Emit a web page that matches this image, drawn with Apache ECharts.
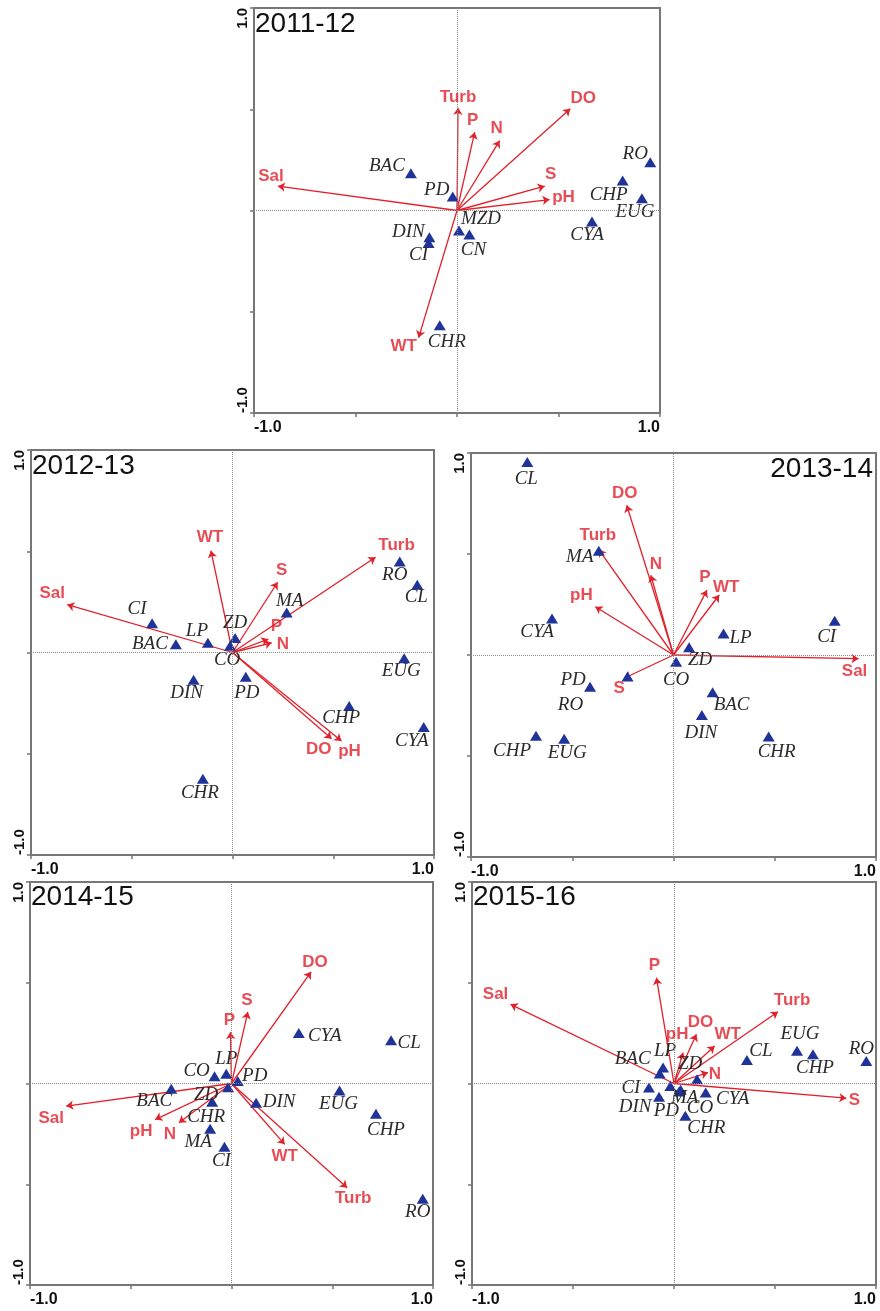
<!DOCTYPE html>
<html><head><meta charset="utf-8">
<script src="https://cdn.jsdelivr.net/npm/echarts@6/dist/echarts.min.js"></script>
<style>html,body{margin:0;padding:0;background:#fff}#c{width:880px;height:1311px}</style>
</head><body><div id="c"></div>
<script>
// ---------- data ----------
const panelTitles = ['2011-12', '2012-13', '2013-14', '2014-15', '2015-16'];
const axisEndLabels = ['-1.0', '1.0'];

// 2011-12
const env1Names = ['Turb', 'P', 'N', 'DO', 'S', 'pH', 'Sal', 'WT'];
const env1X = [0.005, 0.087, 0.21, 0.558, 0.432, 0.456, -0.882, -0.189];
const env1Y = [0.507, 0.387, 0.345, 0.502, 0.12, 0.054, 0.12, -0.628];
const sp1Names = ['BAC', 'PD', 'RO', 'CHP', 'EUG', 'CYA', 'MZD', 'CN', 'DIN', 'CI', 'CHR'];
const sp1X = [-0.227, -0.021, 0.952, 0.816, 0.911, 0.665, 0.01, 0.061, -0.136, -0.14, -0.085];
const sp1Y = [0.184, 0.069, 0.238, 0.148, 0.061, -0.054, -0.099, -0.118, -0.132, -0.161, -0.567];

// 2012-13
const env2Names = ['WT', 'Turb', 'S', 'Sal', 'P', 'N', 'DO', 'pH'];
const env2X = [-0.107, 0.71, 0.224, -0.82, 0.178, 0.195, 0.492, 0.541];
const env2Y = [0.503, 0.47, 0.347, 0.236, 0.066, 0.048, -0.426, -0.437];
const sp2Names = ['RO', 'CL', 'MA', 'CI', 'BAC', 'LP', 'ZD', 'CO', 'EUG', 'DIN', 'PD', 'CHP', 'CYA', 'CHR'];
const sp2X = [0.83, 0.917, 0.269, -0.399, -0.281, -0.122, 0.013, -0.012, 0.852, -0.193, 0.066, 0.579, 0.949, -0.147];
const sp2Y = [0.45, 0.335, 0.198, 0.144, 0.041, 0.048, 0.071, 0.033, -0.028, -0.135, -0.12, -0.264, -0.368, -0.624];

// 2013-14
const env3Names = ['DO', 'Turb', 'N', 'P', 'WT', 'pH', 'S', 'Sal'];
const env3X = [-0.231, -0.369, -0.112, 0.165, 0.226, -0.386, -0.244, 0.914];
const env3Y = [0.741, 0.522, 0.395, 0.321, 0.297, 0.239, -0.115, -0.018];
const sp3Names = ['CL', 'MA', 'CYA', 'CI', 'LP', 'ZD', 'CO', 'PD', 'RO', 'BAC', 'DIN', 'CHR', 'CHP', 'EUG'];
const sp3X = [-0.722, -0.369, -0.6, 0.796, 0.247, 0.077, 0.013, -0.412, -0.227, 0.193, 0.14, 0.47, -0.679, -0.54];
const sp3Y = [0.956, 0.516, 0.181, 0.17, 0.107, 0.038, -0.033, -0.157, -0.107, -0.185, -0.297, -0.404, -0.4, -0.415];

// 2014-15
const env4Names = ['DO', 'S', 'P', 'Sal', 'pH', 'N', 'WT', 'Turb'];
const env4X = [0.395, 0.081, -0.005, -0.82, -0.379, -0.261, 0.264, 0.574];
const env4Y = [0.554, 0.355, 0.255, -0.112, -0.179, -0.195, -0.302, -0.517];
const sp4Names = ['CYA', 'CL', 'LP', 'CO', 'PD', 'BAC', 'ZD', 'CHR', 'DIN', 'EUG', 'CHP', 'MA', 'CI', 'RO'];
const sp4X = [0.334, 0.792, -0.026, -0.084, 0.031, -0.299, -0.017, -0.096, 0.122, 0.536, 0.717, -0.106, -0.035, 0.949];
const sp4Y = [0.251, 0.215, 0.048, 0.036, 0.012, -0.026, -0.018, -0.091, -0.096, -0.035, -0.15, -0.225, -0.314, -0.572];

// 2015-16
const env5Names = ['P', 'Sal', 'Turb', 'DO', 'pH', 'WT', 'N', 'S'];
const env5X = [-0.087, -0.809, 0.515, 0.111, 0.045, 0.201, 0.168, 0.853];
const env5Y = [0.525, 0.393, 0.356, 0.244, 0.153, 0.186, 0.054, -0.073];
const sp5Names = ['LP', 'BAC', 'ZD', 'CI', 'DIN', 'PD', 'MA', 'CO', 'CYA', 'CHR', 'CL', 'EUG', 'CHP', 'RO'];
const sp5X = [-0.054, -0.071, 0.114, -0.124, -0.074, -0.018, 0.033, 0.025, 0.157, 0.056, 0.361, 0.609, 0.688, 0.952];
const sp5Y = [0.079, 0.05, 0.021, -0.02, -0.066, -0.012, -0.031, -0.04, -0.045, -0.16, 0.117, 0.162, 0.145, 0.112];

// ---------- styles / layout (label offsets in px) ----------
const env1Off = [[0,-11],[-2,-12],[-3,-12],[13,-11],[6,-12],[14,-2],[-7,-10],[-15,9]];
const sp1Off = [[-24,-7],[-16,-7],[-15,-8],[-14,14],[-7,14],[-5,14],[22,-12],[4,16],[-21,-5],[-10,12],[7,17]];
const env2Off = [[-1,-13],[21,-12],[4,-12],[-15,-11],[8,-13],[11,2],[-13,11],[8,10]];
const sp2Off = [[-5,14],[-1,12],[3,-11],[-15,-14],[-26,0],[-11,-12],[0,-15],[-3,14],[-3,13],[-7,13],[1,16],[-8,12],[-12,14],[-3,14]];
const env3Off = [[-2,-12],[-1,-14],[5,-11],[-2,-13],[7,-8],[-14,-11],[-5,10],[-4,13]];
const sp3Off = [[-1,17],[-19,6],[-15,14],[-8,16],[17,5],[11,13],[0,18],[-17,-7],[-57,28],[19,13],[-1,18],[8,15],[-24,15],[3,14]];
const env4Off = [[4,-10],[-1,-12],[-1,-12],[-15,12],[-14,12],[-9,12],[0,12],[6,11]];
const sp4Off = [[26,3],[18,3],[0,-15],[-18,-5],[17,-5],[-17,12],[-22,8],[-6,15],[23,-1],[-1,13],[10,16],[-12,13],[-3,14],[-5,13]];
const env5Off = [[-2,-12],[-15,-10],[14,-11],[4,-12],[-6,-18],[13,-12],[7,2],[8,2]];
const sp5Off = [[2,-17],[-27,-14],[-7,-15],[-18,0],[-24,10],[-4,25],[4,8],[21,16],[27,6],[21,12],[14,-9],[3,-17],[2,14],[-5,-12]];

const gridRects = [
  {left: 254, top: 8, width: 406, height: 405},
  {left: 31, top: 450, width: 403, height: 405},
  {left: 471, top: 453, width: 405, height: 404},
  {left: 30, top: 882, width: 403, height: 403},
  {left: 472, top: 882, width: 404, height: 403}
];
const titlePos = [
  {left: 255, top: 10},
  {left: 32, top: 452},
  {right: 7, top: 455},
  {left: 31, top: 883},
  {left: 473, top: 883}
];

const RED = '#e2202a';
const BLUE = '#1f3399';
const GRAY = '#777777';
const SANS = 'Liberation Sans, Arial, sans-serif';
const SERIF = 'Liberation Serif, Times New Roman, serif';

const panels = [
  {en: env1Names, ex: env1X, ey: env1Y, eo: env1Off, sn: sp1Names, sx: sp1X, sy: sp1Y, so: sp1Off},
  {en: env2Names, ex: env2X, ey: env2Y, eo: env2Off, sn: sp2Names, sx: sp2X, sy: sp2Y, so: sp2Off},
  {en: env3Names, ex: env3X, ey: env3Y, eo: env3Off, sn: sp3Names, sx: sp3X, sy: sp3Y, so: sp3Off},
  {en: env4Names, ex: env4X, ey: env4Y, eo: env4Off, sn: sp4Names, sx: sp4X, sy: sp4Y, so: sp4Off},
  {en: env5Names, ex: env5X, ey: env5Y, eo: env5Off, sn: sp5Names, sx: sp5X, sy: sp5Y, so: sp5Off}
];

function endLabel(v) {
  if (Math.abs(v + 1) < 1e-9) return axisEndLabels[0];
  if (Math.abs(v - 1) < 1e-9) return axisEndLabels[1];
  return '';
}

const grid = [], xAxis = [], yAxis = [], series = [], title = [];
panels.forEach((p, i) => {
  grid.push(Object.assign({show: true, borderColor: GRAY, borderWidth: 2, backgroundColor: '#fff',
    containLabel: false, outerBoundsMode: 'none'}, gridRects[i]));
  title.push(Object.assign({text: panelTitles[i], padding: 0,
    textStyle: {fontSize: 28, fontWeight: 'normal', color: '#111', fontFamily: SANS, lineHeight: 29}}, titlePos[i]));
  const axisCommon = {
    gridIndex: i, type: 'value', min: -1, max: 1, interval: 0.5,
    axisLine: {show: true, onZero: false, lineStyle: {color: GRAY, width: 2}},
    axisTick: {show: true, inside: false, length: 4, lineStyle: {color: GRAY, width: 1.5}},
    splitLine: {show: false}
  };
  xAxis.push(Object.assign({}, axisCommon, {position: 'bottom',
    axisLabel: {show: true, margin: 7, fontSize: 16, fontWeight: 'bold', color: '#111', fontFamily: SANS,
      formatter: endLabel, showMinLabel: true, showMaxLabel: true, alignMinLabel: 'left', alignMaxLabel: 'right'}}));
  yAxis.push(Object.assign({}, axisCommon, {position: 'left',
    axisLabel: {show: true, margin: 4, rotate: 90, fontSize: 15, fontWeight: 'bold', color: '#111', fontFamily: SANS,
      formatter: endLabel, showMinLabel: true, showMaxLabel: true, alignMinLabel: 'left', alignMaxLabel: 'right'}}));

  // dotted axes through origin
  series.push({type: 'line', xAxisIndex: i, yAxisIndex: i, data: [], z: 1, silent: true,
    markLine: {silent: true, symbol: 'none', animation: false, label: {show: false},
      lineStyle: {color: '#8a8a8a', type: 'dotted', width: 1},
      data: [{xAxis: 0}, {yAxis: 0}]}});

  // arrows
  series.push({type: 'lines', coordinateSystem: 'cartesian2d', xAxisIndex: i, yAxisIndex: i, z: 3, silent: true,
    symbol: ['none', 'arrow'], symbolSize: 7,
    lineStyle: {color: RED, width: 1.3, opacity: 1, curveness: 0},
    data: p.en.map((n, k) => ({coords: [[0, 0], [p.ex[k], p.ey[k]]]}))});

  // species triangles
  series.push({type: 'scatter', xAxisIndex: i, yAxisIndex: i, z: 4, silent: true,
    symbol: 'triangle', symbolSize: [12, 10], itemStyle: {color: BLUE, opacity: 1},
    label: {show: true, position: 'inside', formatter: '{b}', align: 'center', verticalAlign: 'middle',
      fontFamily: SERIF, fontStyle: 'italic', fontSize: 19, color: '#2b2b2b'},
    data: p.sn.map((n, k) => ({name: n, value: [p.sx[k], p.sy[k]], label: {offset: p.so[k]}}))});

  // environmental variable labels
  series.push({type: 'scatter', xAxisIndex: i, yAxisIndex: i, z: 5, silent: true,
    symbolSize: 1, itemStyle: {color: 'rgba(0,0,0,0)'},
    label: {show: true, position: 'inside', formatter: '{b}', align: 'center', verticalAlign: 'middle',
      fontFamily: SANS, fontWeight: 'bold', fontSize: 17, color: RED},
    data: p.en.map((n, k) => ({name: n, value: [p.ex[k], p.ey[k]], label: {offset: p.eo[k]}}))});
});

const chart = echarts.init(document.getElementById('c'), null, {renderer: 'canvas'});
chart.setOption({animation: false, backgroundColor: '#fff', title, grid, xAxis, yAxis, series});
</script>
</body></html>
